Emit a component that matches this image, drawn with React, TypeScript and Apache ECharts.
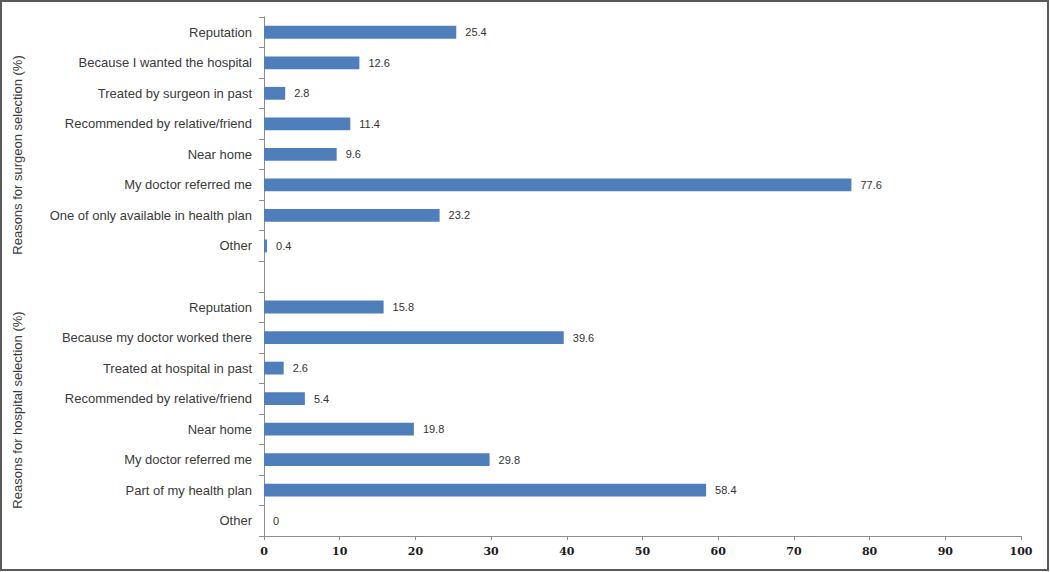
import React, { useEffect, useRef } from "react";
import * as echarts from "echarts";

const categories = [
  "Reputation",
  "Because I wanted the hospital",
  "Treated by surgeon in past",
  "Recommended by relative/friend",
  "Near home",
  "My doctor referred me",
  "One of only available in health plan",
  "Other",
  "",
  "Reputation",
  "Because my doctor worked there",
  "Treated at hospital in past",
  "Recommended by relative/friend",
  "Near home",
  "My doctor referred me",
  "Part of my health plan",
  "Other",
];

const values: (number | null)[] = [
  25.4, 12.6, 2.8, 11.4, 9.6, 77.6, 23.2, 0.4,
  null,
  15.8, 39.6, 2.6, 5.4, 19.8, 29.8, 58.4, 0,
];

const xTicks = { min: 0, max: 100, interval: 10 };
const groupTitles = ["Reasons for surgeon selection (%)", "Reasons for hospital selection (%)"];

export default function App() {
  const ref = useRef<HTMLDivElement>(null);
  useEffect(() => {
    if (!ref.current) return;
    const chart = echarts.init(ref.current, undefined, { renderer: "svg" });
    chart.setOption({
      animation: false,
      backgroundColor: "#ffffff",
      grid: { left: 264, right: 29, top: 17, bottom: 36, containLabel: false },
      xAxis: {
        type: "value",
        min: xTicks.min,
        max: xTicks.max,
        interval: xTicks.interval,
        splitLine: { show: false },
        axisLine: { show: true, lineStyle: { color: "#8c8c8c", width: 1 } },
        axisTick: { show: true, length: 4, lineStyle: { color: "#8c8c8c" } },
        axisLabel: {
          color: "#1a1a1a",
          fontFamily: "DejaVu Serif",
          fontWeight: "bold",
          fontSize: 11,
          margin: 10,
        },
      },
      yAxis: {
        type: "category",
        inverse: true,
        data: categories,
        axisLine: { show: true, lineStyle: { color: "#8c8c8c", width: 1 } },
        axisTick: { show: true, length: 5, lineStyle: { color: "#8c8c8c" } },
        axisLabel: {
          color: "#3a3a3a",
          fontFamily: "Liberation Sans",
          fontSize: 13,
          margin: 12,
        },
      },
      series: [
        {
          type: "bar",
          data: values,
          barWidth: "42%",
          itemStyle: { color: "#4f7fbb" },
          label: {
            show: true,
            position: "right",
            distance: 9,
            color: "#333333",
            fontFamily: "Liberation Sans",
            fontSize: 11,
          },
        },
      ],
      graphic: [
        {
          type: "rect",
          shape: { x: 1, y: 1, width: 1047, height: 569 },
          style: { fill: "none", stroke: "#5a5a5a", lineWidth: 2 },
          silent: true,
        },
        {
          type: "text",
          x: 17,
          y: 155,
          rotation: Math.PI / 2,
          style: {
            text: groupTitles[0],
            fill: "#3a3a3a",
            font: "13px 'Liberation Sans'",
            align: "center",
            verticalAlign: "middle",
          },
        },
        {
          type: "text",
          x: 17,
          y: 410,
          rotation: Math.PI / 2,
          style: {
            text: groupTitles[1],
            fill: "#3a3a3a",
            font: "13px 'Liberation Sans'",
            align: "center",
            verticalAlign: "middle",
          },
        },
      ],
    });
    return () => chart.dispose();
  }, []);
  return (
    <div
      ref={ref}
      style={{ position: "absolute", left: 0, top: 0, width: 1050, height: 572 }}
    />
  );
}
